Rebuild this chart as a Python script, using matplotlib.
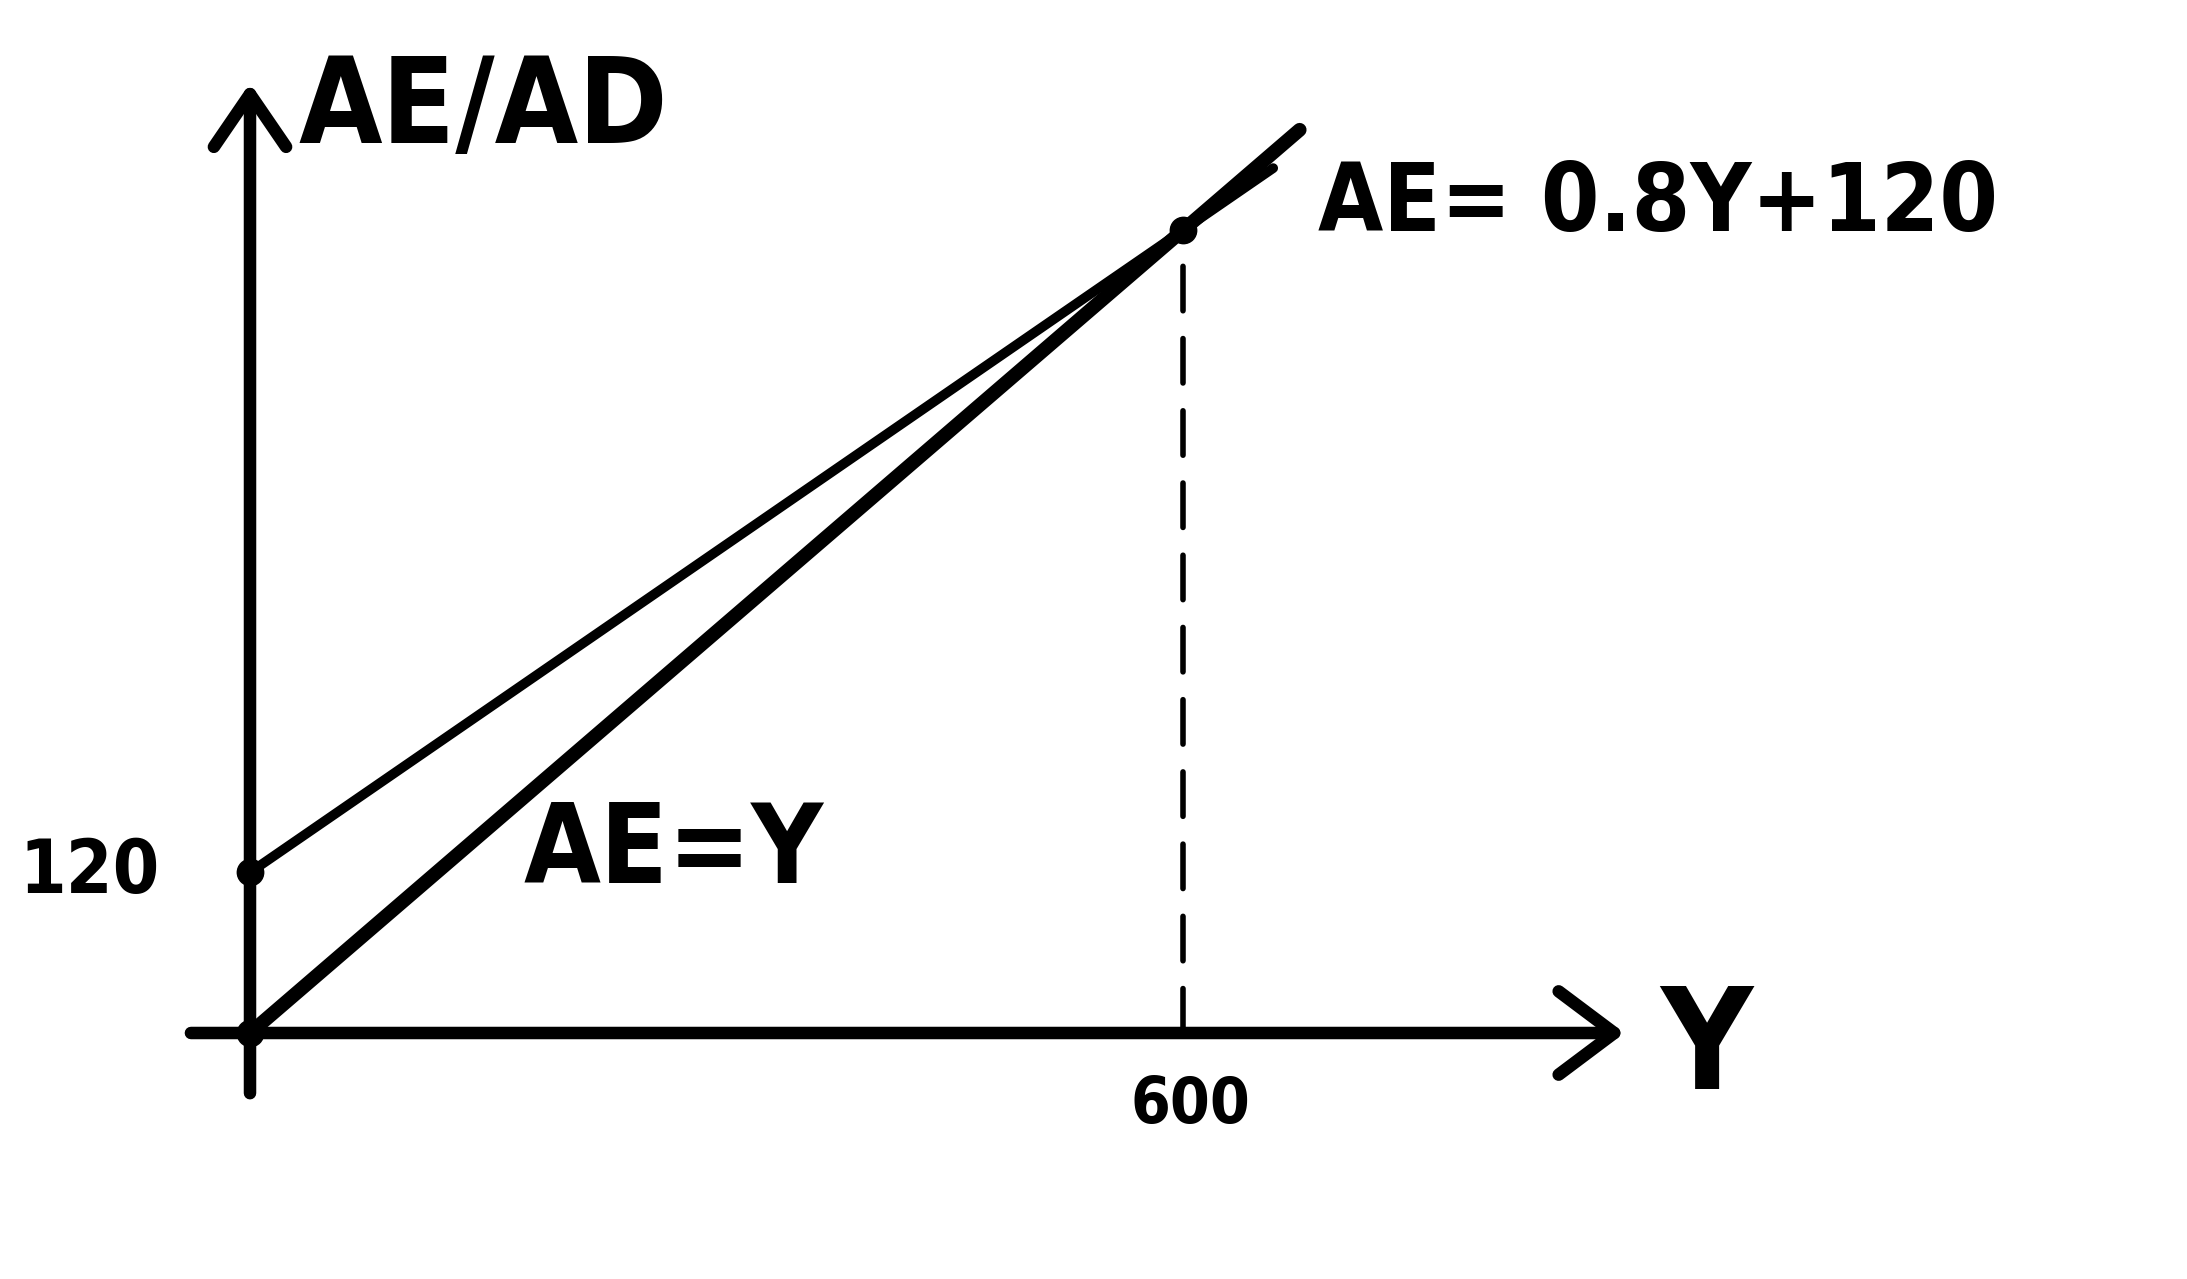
import matplotlib
matplotlib.use("Agg")
import matplotlib.pyplot as plt
from matplotlib import font_manager as fm

# ---- data ----
income_Y = [0, 675]               # Y range drawn for AE = Y
ae_income_Y = [0, 675]
ae_Y = [0, 658]                   # Y range drawn for AE = 0.8Y + 120
mpc = 0.8
autonomous = 120
equilibrium_Y = 600
ae_line = [mpc * y + autonomous for y in ae_Y]
y_tick_value = 120
x_tick_value = 600
x_label = "Y"
y_label = "AE/AD"
ae_eq_label = "AE= 0.8Y+120"
ae_y_label = "AE=Y"

# ---- pick a narrow font if one is installed ----
family, stretch = "DejaVu Sans", "normal"
narrow = [f for f in fm.fontManager.ttflist
          if (f.stretch in ("condensed", "semi-condensed", "extra-condensed")
              or "Narrow" in f.name or "Condensed" in f.name)]
if narrow:
    bold = [f for f in narrow if f.weight in ("bold", 700, "heavy")]
    pick = (bold or narrow)[0]
    family, stretch = pick.name, pick.stretch
fonts = [family, "DejaVu Sans"]

# ---- figure ----
W, H, DPI = 2187, 1279, 100
fig = plt.figure(figsize=(W / DPI, H / DPI), dpi=DPI, facecolor="white")
ax = fig.add_axes([0, 0, 1, 1])
ax.set_axis_off()

# pixel mapping: origin at (250, 1033) px, 1.555 px per Y unit, 1.338 px per AE unit
ox, oy, sx, sy = 250, 1033, 1.555, 1.338
ax.set_xlim(-ox / sx, (W - ox) / sx)
ax.set_ylim(-(H - oy) / sy, oy / sy)

ink = "black"

# axes with open arrowheads
ax.annotate("", xy=(884, 0), xytext=(-38, 0),
            arrowprops=dict(arrowstyle="->,head_length=2.0,head_width=1.5",
                            lw=9, color=ink, mutation_scale=20,
                            shrinkA=0, shrinkB=0, capstyle="round",
                            joinstyle="round"))
ax.annotate("", xy=(0, 710), xytext=(0, -45),
            arrowprops=dict(arrowstyle="->,head_length=1.9,head_width=1.3",
                            lw=9, color=ink, mutation_scale=20,
                            shrinkA=0, shrinkB=0, capstyle="round",
                            joinstyle="round"))

# lines
ax.plot(income_Y, ae_income_Y, color=ink, lw=10, solid_capstyle="round")
ax.plot(ae_Y, ae_line, color=ink, lw=7, solid_capstyle="round")

# dashed guide from equilibrium down to the axis
ax.plot([equilibrium_Y, equilibrium_Y], [0, equilibrium_Y], color=ink, lw=4,
        linestyle=(0, (8, 5)), dash_capstyle="round")

# dots
ax.plot([0, 0, equilibrium_Y], [autonomous, 0, equilibrium_Y], "o", color=ink,
        markersize=19)

# texts, each sized to fit the width it takes in the sketch
fig.canvas.draw()
renderer = fig.canvas.get_renderer()


def fit_text(x, y, s, width_px, max_size, **kw):
    t = ax.text(x, y, s, fontsize=100, family=fonts, fontstretch=stretch,
                fontweight="bold", color=ink, **kw)
    bb = t.get_window_extent(renderer)
    t.set_fontsize(min(max_size, 100 * width_px / bb.width))
    return t


fit_text(31, 665, y_label, 370, 100, ha="left", va="baseline")
fit_text(907, -13, x_label, 92, 135, ha="left", va="center")
fit_text(-58, y_tick_value, str(y_tick_value), 140, 72, ha="right", va="center")
fit_text(x_tick_value + 5, -31, str(x_tick_value), 120, 60, ha="center", va="top")
fit_text(687, 619, ae_eq_label, 680, 85, ha="left", va="center")
fit_text(176, 112, ae_y_label, 300, 80, ha="left", va="baseline")

fig.savefig("out.png", dpi=DPI, facecolor="white")
